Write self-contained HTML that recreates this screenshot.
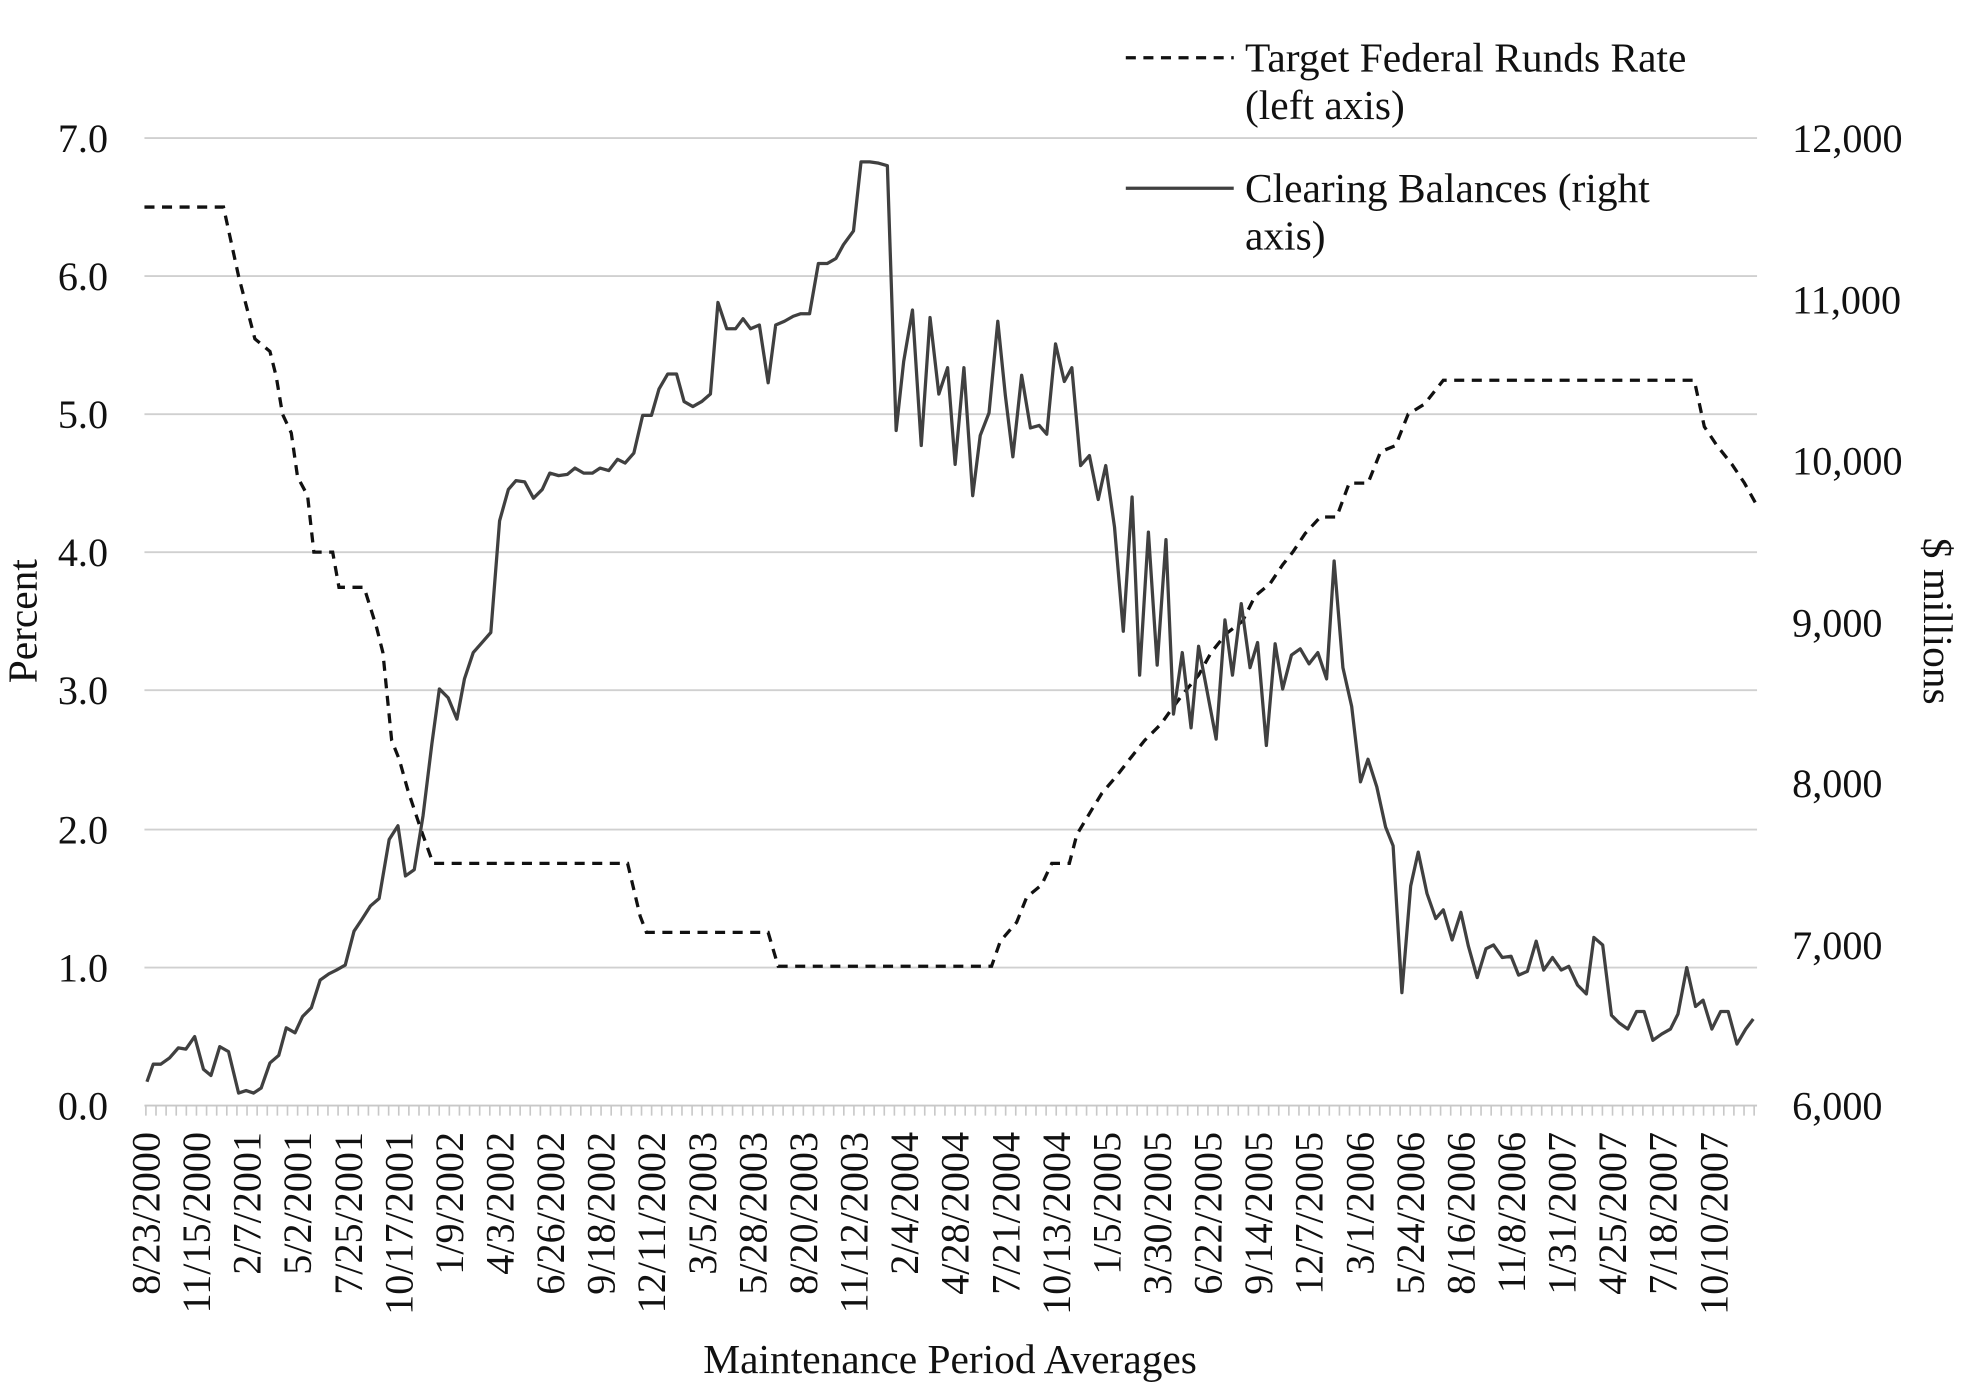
<!DOCTYPE html>
<html><head><meta charset="utf-8"><style>html,body{margin:0;padding:0;background:#fff}svg{display:block}text{font-family:"Liberation Serif",serif;fill:#111}</style></head><body>
<svg width="1968" height="1398" viewBox="0 0 1568 1114" xmlns="http://www.w3.org/2000/svg">
<g stroke="#d0d0d0" stroke-width="1.5">
<line x1="115" x2="1400" y1="771" y2="771"/><line x1="115" x2="1400" y1="661" y2="661"/><line x1="115" x2="1400" y1="550" y2="550"/><line x1="115" x2="1400" y1="440" y2="440"/><line x1="115" x2="1400" y1="330" y2="330"/><line x1="115" x2="1400" y1="220" y2="220"/><line x1="115" x2="1400" y1="110" y2="110"/>
</g>
<line x1="115" x2="1400" y1="881" y2="881" stroke="#c8c8c8" stroke-width="1.5"/>
<line x1="115.5" x2="1400" y1="885" y2="885" stroke="#c8c8c8" stroke-width="8" stroke-dasharray="1.3,6.76"/>
<g font-size="32" text-anchor="end">
<text x="86" y="892">0.0</text><text x="86" y="782">1.0</text><text x="86" y="672">2.0</text><text x="86" y="561">3.0</text><text x="86" y="451">4.0</text><text x="86" y="341">5.0</text><text x="86" y="231">6.0</text><text x="86" y="121">7.0</text>
</g>
<g font-size="32" text-anchor="start">
<text x="1428" y="892">6,000</text><text x="1428" y="764">7,000</text><text x="1428" y="635">8,000</text><text x="1428" y="507">9,000</text><text x="1428" y="378">10,000</text><text x="1428" y="250">11,000</text><text x="1428" y="121">12,000</text>
</g>
<text font-size="33" transform="translate(29,495) rotate(-90)" text-anchor="middle">Percent</text>
<text font-size="33" transform="translate(1533,495) rotate(90)" text-anchor="middle">$ millions</text>
<text font-size="33" x="757" y="1094" text-anchor="middle">Maintenance Period Averages</text>
<g font-size="32" text-anchor="end">
<text transform="translate(127,902) rotate(-90)">8/23/2000</text>
<text transform="translate(167.3,902) rotate(-90)">11/15/2000</text>
<text transform="translate(207.6,902) rotate(-90)">2/7/2001</text>
<text transform="translate(247.9,902) rotate(-90)">5/2/2001</text>
<text transform="translate(288.2,902) rotate(-90)">7/25/2001</text>
<text transform="translate(328.5,902) rotate(-90)">10/17/2001</text>
<text transform="translate(368.8,902) rotate(-90)">1/9/2002</text>
<text transform="translate(409.1,902) rotate(-90)">4/3/2002</text>
<text transform="translate(449.4,902) rotate(-90)">6/26/2002</text>
<text transform="translate(489.7,902) rotate(-90)">9/18/2002</text>
<text transform="translate(530,902) rotate(-90)">12/11/2002</text>
<text transform="translate(570.3,902) rotate(-90)">3/5/2003</text>
<text transform="translate(610.6,902) rotate(-90)">5/28/2003</text>
<text transform="translate(650.9,902) rotate(-90)">8/20/2003</text>
<text transform="translate(691.2,902) rotate(-90)">11/12/2003</text>
<text transform="translate(731.5,902) rotate(-90)">2/4/2004</text>
<text transform="translate(771.8,902) rotate(-90)">4/28/2004</text>
<text transform="translate(812.1,902) rotate(-90)">7/21/2004</text>
<text transform="translate(852.4,902) rotate(-90)">10/13/2004</text>
<text transform="translate(892.7,902) rotate(-90)">1/5/2005</text>
<text transform="translate(933,902) rotate(-90)">3/30/2005</text>
<text transform="translate(973.3,902) rotate(-90)">6/22/2005</text>
<text transform="translate(1013.6,902) rotate(-90)">9/14/2005</text>
<text transform="translate(1053.9,902) rotate(-90)">12/7/2005</text>
<text transform="translate(1094.2,902) rotate(-90)">3/1/2006</text>
<text transform="translate(1134.5,902) rotate(-90)">5/24/2006</text>
<text transform="translate(1174.8,902) rotate(-90)">8/16/2006</text>
<text transform="translate(1215.1,902) rotate(-90)">11/8/2006</text>
<text transform="translate(1255.4,902) rotate(-90)">1/31/2007</text>
<text transform="translate(1295.7,902) rotate(-90)">4/25/2007</text>
<text transform="translate(1336,902) rotate(-90)">7/18/2007</text>
<text transform="translate(1376.3,902) rotate(-90)">10/10/2007</text>
</g>
<polyline fill="none" stroke="#111" stroke-width="2.6" stroke-dasharray="8,6" points="115,165 178,165 190,220 203,270 215,280 220,300 225,330 232,345 237,380 245,395 250,440 265,440 270,468 290,468 300,500 305,520 312,590 318,605 325,630 335,660 345,688 500,688 510,730 515,743 612,743 620,770 790,770 797,750 810,735 818,715 830,705 838,688 852,688 858,665 870,645 878,632 890,618 900,605 912,590 925,577 935,563 945,550 955,538 965,520 977,505 990,495 1000,475 1012,465 1022,450 1030,440 1040,425 1052,412 1065,412 1075,385 1090,385 1100,360 1112,355 1122,330 1135,322 1150,303 1350,303 1358,340 1368,355 1380,370 1390,385 1400,403"/>
<polyline fill="none" stroke="#404040" stroke-width="2.6" stroke-linejoin="round" points="117,862 122,848 128,848 135,843 142,835 148,836 155,826 162,852 168,857 175,834 182,838 190,871 196,869 202,871 208,867 215,847 222,841 228,819 235,823 241,810 248,803 255,781 262,776 268,773 275,769 282,742 288,733 295,722 302,716 310,669 317,658 323,698 330,693 337,650 344,593 350,549 357,556 364,573 370,541 377,520 384,512 391,504 398,415 405,390 411,383 418,384 425,397 432,390 438,377 445,379 452,378 458,373 465,377 472,377 478,373 485,375 492,366 498,369 505,361 512,331 519,331 525,310 532,298 539,298 545,320 552,324 559,320 566,314 572,241 579,262 586,262 592,254 598,262 605,259 612,305 618,259 625,256 632,252 638,250 645,250 652,210 659,210 666,206 672,195 680,184 686,129 693,129 700,130 707,132 714,343 720,288 727,247 734,355 741,253 748,314 755,293 761,370 768,293 775,395 781,347 788,329 795,256 801,315 807,364 814,299 821,341 828,339 834,346 841,274 848,304 854,293 861,371 868,363 875,398 881,371 888,420 895,503 902,396 908,538 915,424 922,530 929,430 935,569 942,520 949,580 955,515 962,552 969,589 976,494 982,538 989,481 996,532 1002,512 1009,594 1016,513 1022,549 1029,522 1036,517 1043,529 1050,520 1057,541 1063,447 1070,532 1077,563 1084,623 1090,605 1097,627 1104,659 1110,674 1117,791 1124,706 1130,679 1137,712 1144,732 1150,725 1157,749 1164,727 1170,754 1177,779 1184,756 1190,753 1197,763 1204,762 1210,777 1217,774 1224,750 1230,773 1237,763 1244,773 1250,770 1257,785 1264,792 1270,747 1277,753 1284,809 1290,815 1297,820 1304,806 1310,806 1317,829 1324,824 1331,820 1337,808 1344,771 1351,802 1357,797 1364,820 1371,806 1377,806 1384,832 1391,820 1397,812"/>
<line x1="897" x2="983" y1="46" y2="46" stroke="#111" stroke-width="2.6" stroke-dasharray="8,6"/>
<line x1="897" x2="983" y1="150" y2="150" stroke="#404040" stroke-width="2.6"/>
<g font-size="33"><text x="992" y="57">Target Federal Runds Rate</text><text x="992" y="95">(left axis)</text><text x="992" y="161">Clearing Balances (right</text><text x="992" y="199">axis)</text></g>
</svg>
</body></html>
